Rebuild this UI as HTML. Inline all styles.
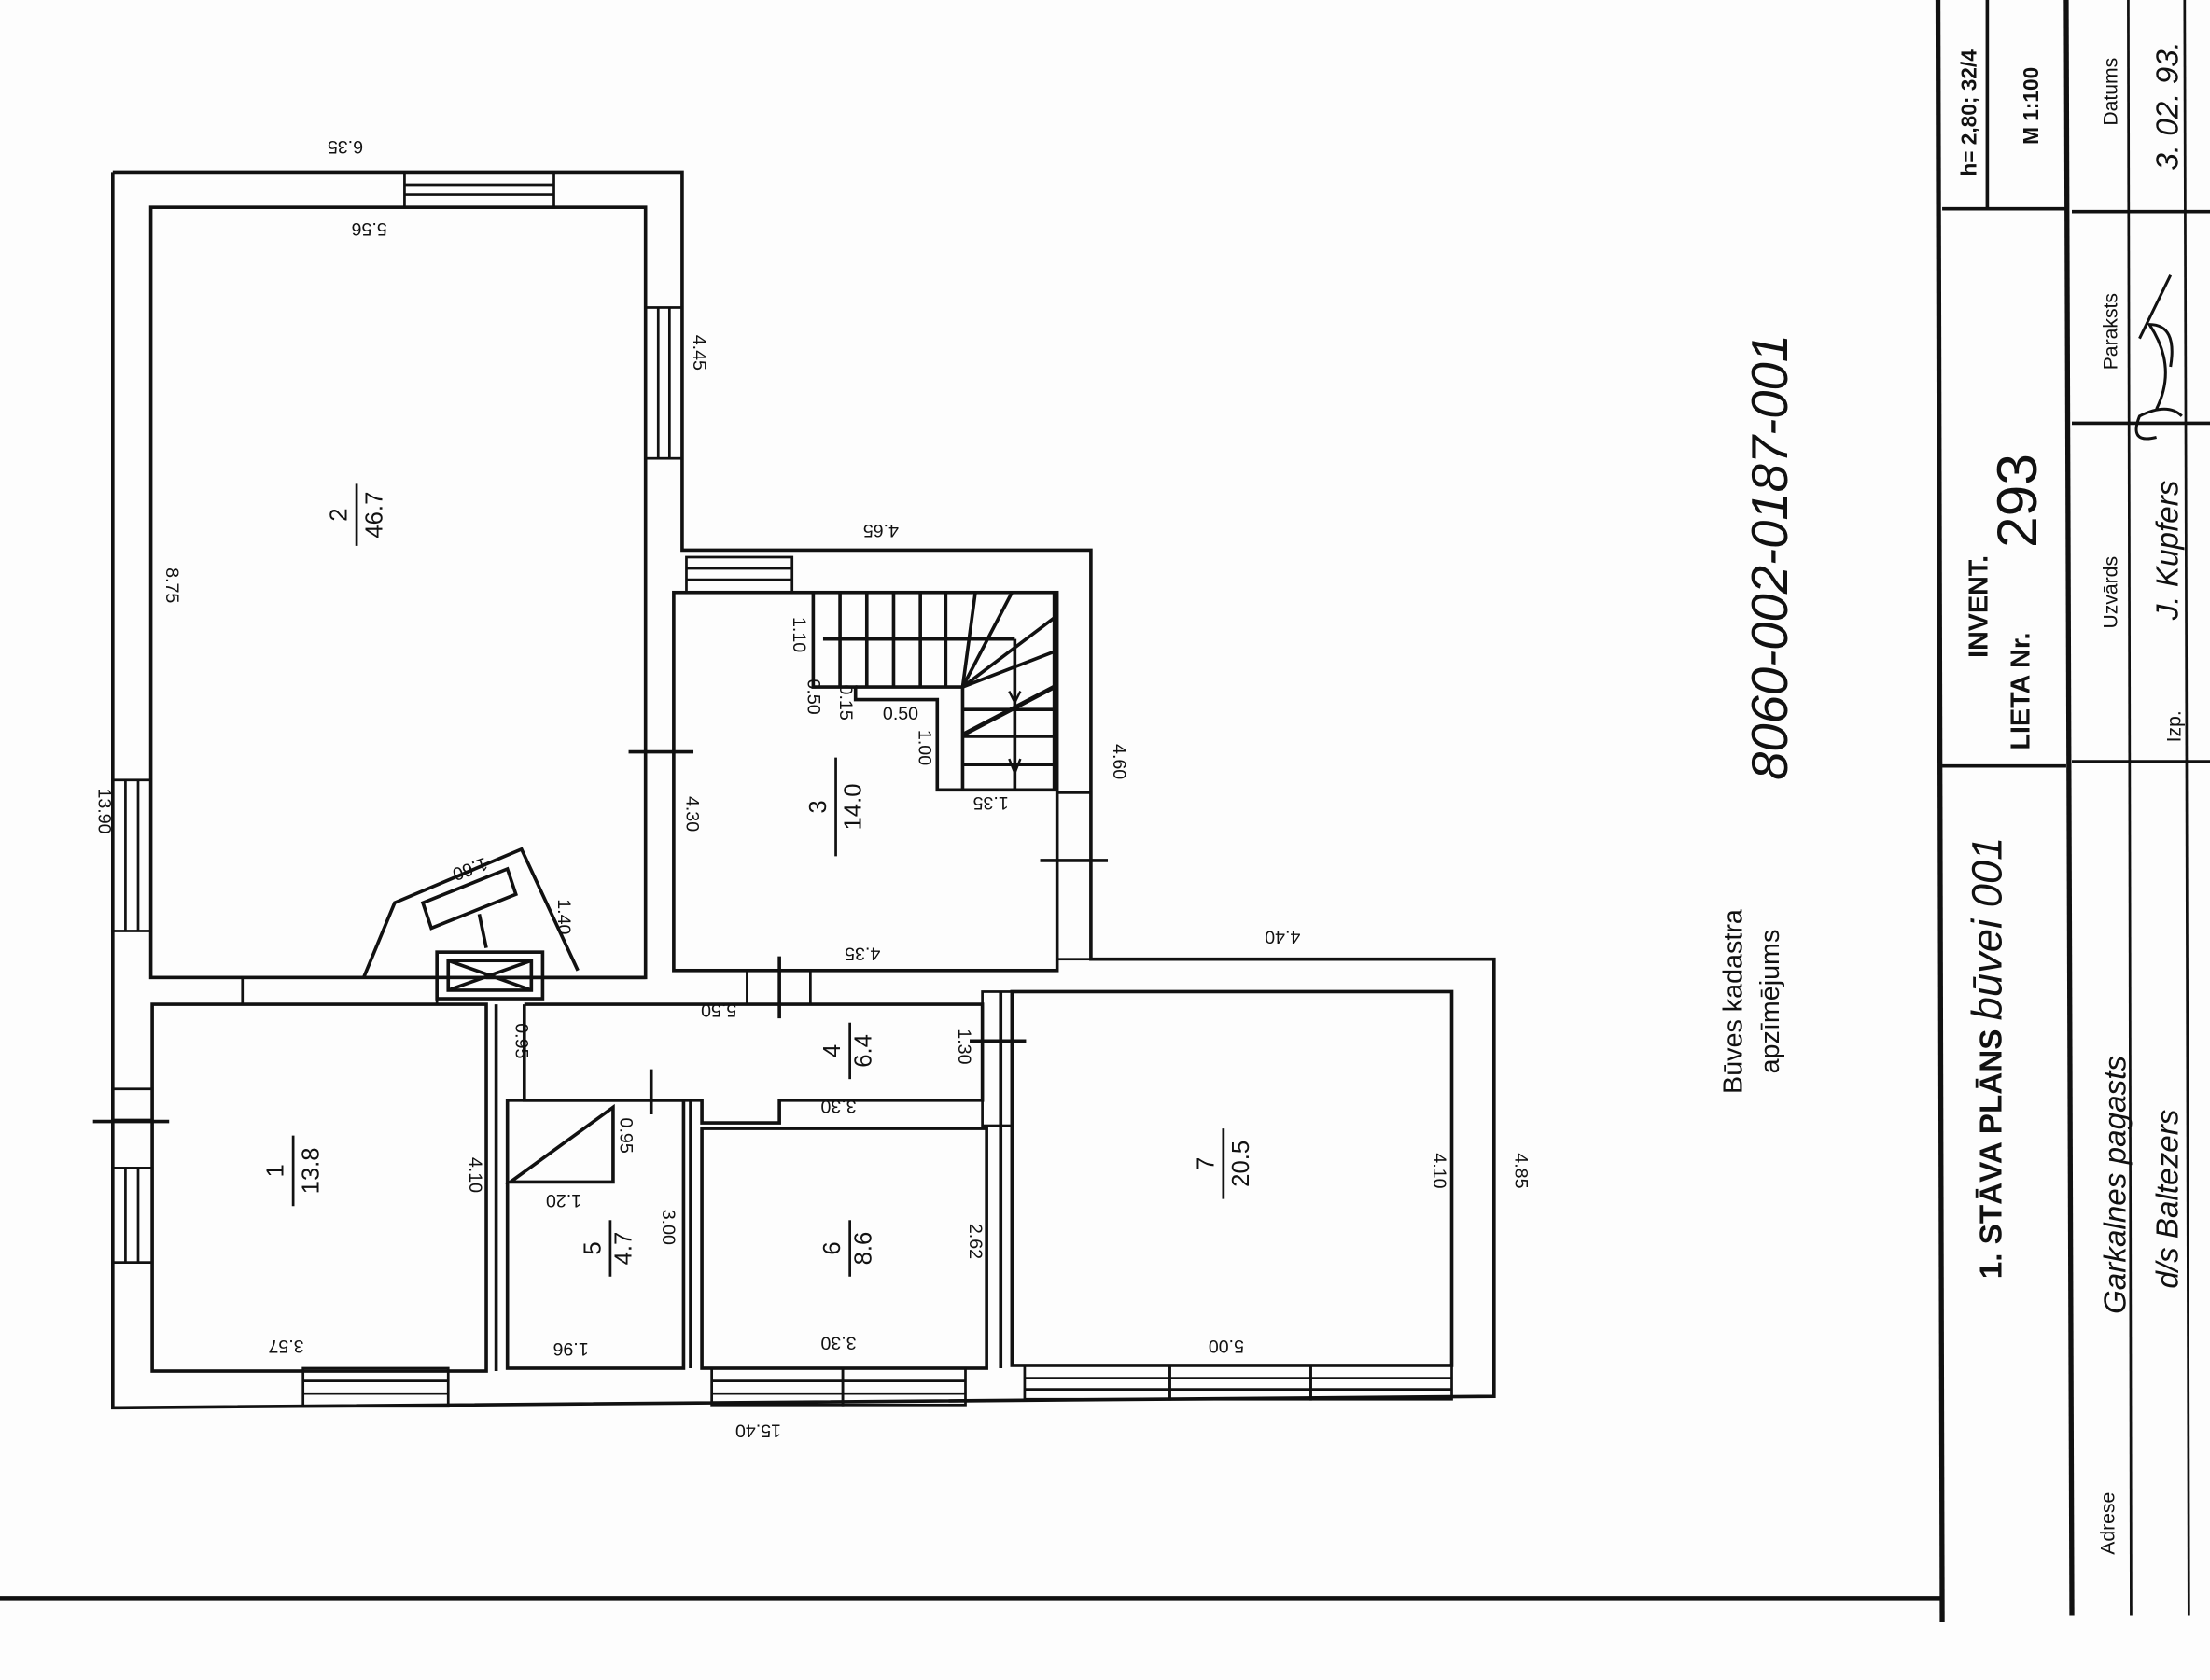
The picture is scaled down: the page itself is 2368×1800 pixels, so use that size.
<!DOCTYPE html>
<html><head><meta charset="utf-8"><style>
html,body{margin:0;padding:0;background:#fdfdfd;}
svg{display:block}
text{font-family:"Liberation Sans",sans-serif;fill:#111}
.h{font-family:"Liberation Sans",sans-serif;font-style:italic}
</style></head><body>
<svg width="2368" height="1800" viewBox="0 0 1568 1191" preserveAspectRatio="none" xmlns="http://www.w3.org/2000/svg">
<rect width="1568" height="1191" fill="#fdfdfd"/>
<g fill="none" stroke="#111" stroke-width="2.4">
<polyline points="80,122 484,122 484,390 774,390 774,680 1060,680 1060,990 80,998 80,122"/>
<rect x="107" y="147" width="351" height="546"/>
<rect x="478" y="420" width="272" height="268"/>
<rect x="108" y="712" width="237" height="260"/>
<polyline points="372,712 697,712 697,780 553,780 553,796 498,796 498,780 372,780 372,712"/>
<rect x="360" y="780" width="125" height="190"/>
<rect x="498" y="800" width="202" height="170"/>
<rect x="718" y="703" width="312" height="265"/>
<line x1="352" y1="712" x2="352" y2="972"/>
<line x1="345" y1="693" x2="458" y2="693"/>
<line x1="490" y1="780" x2="490" y2="970"/>
<line x1="710" y1="703" x2="710" y2="970"/>
<g stroke-width="1.8">
<rect x="287" y="122" width="106" height="25"/><line x1="287" y1="131" x2="393" y2="131"/><line x1="287" y1="138" x2="393" y2="138"/>
<rect x="458" y="218" width="26" height="107"/><line x1="467" y1="218" x2="467" y2="325"/><line x1="475" y1="218" x2="475" y2="325"/>
<rect x="80" y="553" width="27" height="107"/><line x1="89" y1="553" x2="89" y2="660"/><line x1="98" y1="553" x2="98" y2="660"/>
<rect x="80" y="772" width="28" height="22"/>
<rect x="80" y="828" width="28" height="67"/><line x1="89" y1="828" x2="89" y2="895"/><line x1="98" y1="828" x2="98" y2="895"/>
<rect x="487" y="395" width="75" height="25"/><line x1="487" y1="403" x2="562" y2="403"/><line x1="487" y1="411" x2="562" y2="411"/>
<rect x="750" y="562" width="24" height="118"/>
<rect x="215" y="970" width="103" height="27"/><line x1="215" y1="979" x2="318" y2="979"/><line x1="215" y1="988" x2="318" y2="988"/>
<rect x="505" y="970" width="93" height="26"/><line x1="505" y1="979" x2="598" y2="979"/><line x1="505" y1="988" x2="598" y2="988"/>
<rect x="598" y="970" width="87" height="26"/><line x1="598" y1="979" x2="685" y2="979"/><line x1="598" y1="988" x2="685" y2="988"/>
<rect x="727" y="968" width="103" height="24"/><line x1="727" y1="977" x2="830" y2="977"/><line x1="727" y1="985" x2="830" y2="985"/>
<rect x="830" y="968" width="100" height="24"/><line x1="830" y1="977" x2="930" y2="977"/><line x1="830" y1="985" x2="930" y2="985"/>
<rect x="930" y="968" width="100" height="24"/><line x1="930" y1="977" x2="1030" y2="977"/><line x1="930" y1="985" x2="1030" y2="985"/>
<rect x="172" y="693" width="138" height="19"/>
<rect x="530" y="688" width="45" height="24"/>
<rect x="697" y="703" width="21" height="95"/>
</g>
<line x1="66" y1="795" x2="120" y2="795"/>
<line x1="446" y1="533" x2="492" y2="533"/>
<line x1="738" y1="610" x2="786" y2="610"/>
<line x1="553" y1="678" x2="553" y2="722"/>
<line x1="688" y1="738" x2="728" y2="738"/>
<line x1="462" y1="758" x2="462" y2="790"/>
<!-- stairs -->
<polyline points="577,420 577,487 607,487 607,496 665,496 665,560 748,560 748,420"/>
<line x1="584" y1="453" x2="720" y2="453"/><line x1="720" y1="453" x2="720" y2="560"/>
<line x1="596" y1="420" x2="596" y2="487"/><line x1="615" y1="420" x2="615" y2="487"/>
<line x1="634" y1="420" x2="634" y2="487"/><line x1="653" y1="420" x2="653" y2="487"/>
<line x1="671" y1="420" x2="671" y2="487"/>
<line x1="607" y1="487" x2="683" y2="487"/>
<line x1="683" y1="487" x2="692" y2="420"/><line x1="683" y1="487" x2="718" y2="420"/>
<line x1="683" y1="487" x2="748" y2="438"/><line x1="683" y1="487" x2="748" y2="462"/>
<line x1="683" y1="487" x2="683" y2="560"/>
<line x1="683" y1="503" x2="748" y2="503"/><line x1="683" y1="522" x2="748" y2="522"/>
<line x1="683" y1="542" x2="748" y2="542"/>
<line x1="683" y1="521" x2="748" y2="487" stroke-width="3.2"/>
<path d="M716,490 L720,498 L724,490" stroke-width="1.6"/>
<path d="M716,538 L720,548 L724,538" stroke-width="1.6"/>
<rect x="310" y="675" width="75" height="33"/>
<rect x="318" y="681" width="59" height="21"/>
<line x1="318" y1="681" x2="377" y2="702"/><line x1="318" y1="702" x2="377" y2="681"/>
<polyline points="258,693 280,640 370,602 410,688"/>
<polygon points="300,640 360,616 366,634 306,658"/>
<line x1="340" y1="648" x2="345" y2="672"/>
<polygon points="362,838 435,785 435,838"/>
<line x1="0" y1="1133" x2="1378" y2="1133" stroke-width="3"/>
<line x1="1375" y1="0" x2="1378" y2="1150" stroke-width="3.5"/>
<line x1="1466" y1="0" x2="1470" y2="1145" stroke-width="3.5"/>
<line x1="1410" y1="0" x2="1410" y2="148"/>
<line x1="1378" y1="148" x2="1466" y2="148"/>
<line x1="1378" y1="543" x2="1466" y2="543"/>
<line x1="1470" y1="150" x2="1568" y2="150"/>
<line x1="1470" y1="300" x2="1568" y2="300"/>
<line x1="1470" y1="540" x2="1568" y2="540"/>
<line x1="1510" y1="0" x2="1512" y2="1145" stroke-width="1.8"/>
<line x1="1550" y1="0" x2="1553" y2="1145" stroke-width="1.8"/>
<line x1="1518" y1="240" x2="1540" y2="195" stroke-width="2"/>
<path d="M1548,295 q-10,-10 -30,0 q-8,20 12,15 M1530,290 q15,-30 -5,-60 q20,0 15,30" stroke-width="2"/>
</g>
<g font-size="17">
<g transform="translate(240,365) rotate(-90)"><text text-anchor="middle" y="6">2</text><line x1="-22" y1="13" x2="22" y2="13" stroke="#111" stroke-width="1.8"/><text text-anchor="middle" y="31">46.7</text></g>
<g transform="translate(580,572) rotate(-90)"><text text-anchor="middle" y="6">3</text><line x1="-35" y1="13" x2="35" y2="13" stroke="#111" stroke-width="1.8"/><text text-anchor="middle" y="31">14.0</text></g>
<g transform="translate(195,830) rotate(-90)"><text text-anchor="middle" y="6">1</text><line x1="-25" y1="13" x2="25" y2="13" stroke="#111" stroke-width="1.8"/><text text-anchor="middle" y="31">13.8</text></g>
<g transform="translate(590,745) rotate(-90)"><text text-anchor="middle" y="6">4</text><line x1="-20" y1="13" x2="20" y2="13" stroke="#111" stroke-width="1.8"/><text text-anchor="middle" y="28">6.4</text></g>
<g transform="translate(420,885) rotate(-90)"><text text-anchor="middle" y="6">5</text><line x1="-20" y1="13" x2="20" y2="13" stroke="#111" stroke-width="1.8"/><text text-anchor="middle" y="28">4.7</text></g>
<g transform="translate(590,885) rotate(-90)"><text text-anchor="middle" y="6">6</text><line x1="-20" y1="13" x2="20" y2="13" stroke="#111" stroke-width="1.8"/><text text-anchor="middle" y="28">8.6</text></g>
<g transform="translate(855,825) rotate(-90)"><text text-anchor="middle" y="6">7</text><line x1="-25" y1="13" x2="25" y2="13" stroke="#111" stroke-width="1.8"/><text text-anchor="middle" y="31">20.5</text></g>
</g>
<g font-size="13" text-anchor="middle">
<text transform="translate(245,100) rotate(180)">6.35</text>
<text transform="translate(262,158) rotate(180)">5.56</text>
<text transform="translate(625,372) rotate(180)">4.65</text>
<text transform="translate(612,672) rotate(180)">4.35</text>
<text transform="translate(510,712) rotate(180)">5.50</text>
<text transform="translate(910,660) rotate(180)">4.40</text>
<text transform="translate(203,950) rotate(180)">3.57</text>
<text transform="translate(405,952) rotate(180)">1.96</text>
<text transform="translate(595,948) rotate(180)">3.30</text>
<text transform="translate(870,950) rotate(180)">5.00</text>
<text transform="translate(538,1010) rotate(180)">15.40</text>
<text transform="translate(703,565) rotate(180)">1.35</text>
<text transform="translate(595,780) rotate(180)">3.30</text>
<text transform="translate(400,847) rotate(180)">1.20</text>
<text transform="translate(332,612) rotate(160)">1.60</text>
<text transform="translate(70,575) rotate(90)">13.90</text>
<text transform="translate(118,415) rotate(90)">8.75</text>
<text transform="translate(492,250) rotate(90)">4.45</text>
<text transform="translate(487,577) rotate(90)">4.30</text>
<text transform="translate(790,540) rotate(90)">4.60</text>
<text transform="translate(1075,830) rotate(90)">4.85</text>
<text transform="translate(1017,830) rotate(90)">4.10</text>
<text transform="translate(333,833) rotate(90)">4.10</text>
<text transform="translate(470,870) rotate(90)">3.00</text>
<text transform="translate(688,880) rotate(90)">2.62</text>
<text transform="translate(680,742) rotate(90)">1.30</text>
<text transform="translate(366,738) rotate(90)">0.95</text>
<text transform="translate(440,805) rotate(90)">0.95</text>
<text transform="translate(396,650) rotate(90)">1.40</text>
<text transform="translate(563,450) rotate(90)">1.10</text>
<text transform="translate(652,530) rotate(90)">1.00</text>
<text transform="translate(573,494) rotate(90)">0.50</text>
<text transform="translate(596,498) rotate(90)">0.15</text>
<text x="639" y="510">0.50</text>
</g>
<g font-size="19">
<text transform="translate(1236,710) rotate(-90)" text-anchor="middle">Būves kadastra</text>
<text transform="translate(1262,710) rotate(-90)" text-anchor="middle">apzīmējums</text>
</g>
<text class="h" font-size="36" transform="translate(1268,395) rotate(-90)" text-anchor="middle">8060-002-0187-001</text>
<text font-size="22" font-weight="bold" transform="translate(1420,750) rotate(-90)" text-anchor="middle">1. STĀVA PLĀNS <tspan class="h" font-weight="normal" font-size="30">būvei 001</tspan></text>
<text font-size="19" font-weight="bold" transform="translate(1410,430) rotate(-90)" text-anchor="middle">INVENT.</text>
<text font-size="19" font-weight="bold" transform="translate(1440,490) rotate(-90)" text-anchor="middle">LIETA Nr.</text>
<text font-size="40" transform="translate(1445,355) rotate(-90)" text-anchor="middle">293</text>
<text font-size="15" font-weight="bold" transform="translate(1402,80) rotate(-90)" text-anchor="middle">h= 2,80; 32/4</text>
<text font-size="15" font-weight="bold" transform="translate(1446,75) rotate(-90)" text-anchor="middle">M 1:100</text>
<g font-size="14">
<text transform="translate(1502,420) rotate(-90)" text-anchor="middle">Uzvārds</text>
<text transform="translate(1502,235) rotate(-90)" text-anchor="middle">Paraksts</text>
<text transform="translate(1502,65) rotate(-90)" text-anchor="middle">Datums</text>
<text transform="translate(1547,515) rotate(-90)" text-anchor="middle">Izp.</text>
<text transform="translate(1500,1080) rotate(-90)" text-anchor="middle">Adrese</text>
</g>
<g class="h" font-size="22">
<text transform="translate(1545,390) rotate(-90)" text-anchor="middle">J. Kupfers</text>
<text transform="translate(1545,75) rotate(-90)" text-anchor="middle">3. 02. 93.</text>
<text transform="translate(1508,840) rotate(-90)" text-anchor="middle">Garkalnes pagasts</text>
<text transform="translate(1545,850) rotate(-90)" text-anchor="middle">d/s Baltezers</text>
</g>
</svg>
</body></html>
